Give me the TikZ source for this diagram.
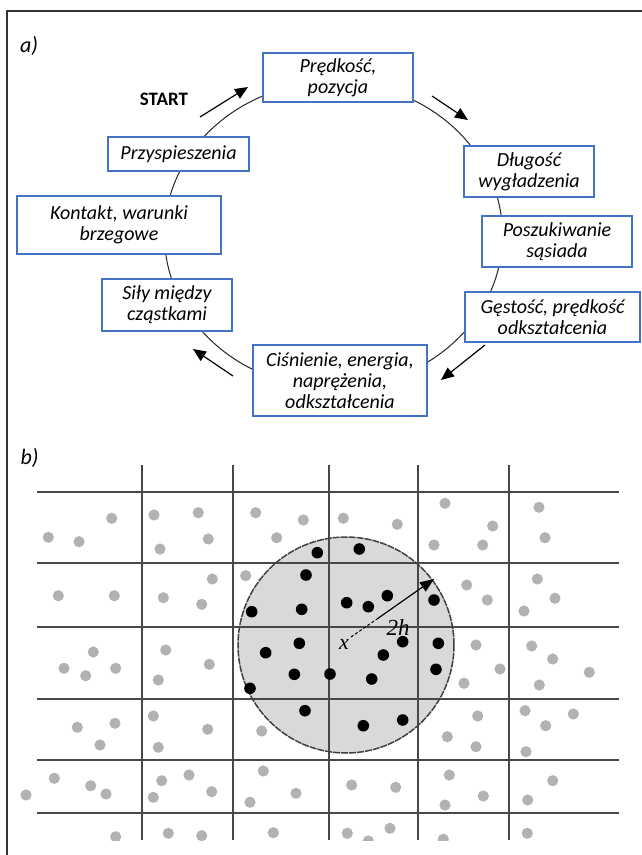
\documentclass[tikz,border=0pt]{standalone}
\usepackage{fontspec}
\setmainfont{Carlito}
\newfontfamily\serifit{Liberation Serif}
\usetikzlibrary{arrows.meta}
\definecolor{boxblue}{RGB}{68,114,196}
\definecolor{dotgray}{RGB}{178,178,178}
\definecolor{circfill}{RGB}{217,217,217}
\definecolor{gridcol}{RGB}{72,72,72}
\begin{document}
\begin{tikzpicture}[x=1pt,y=-1pt,
  stepbox/.style={draw=boxblue, line width=2.4pt, fill=white, inner sep=0pt, align=center,
    font=\fontsize{20}{21}\selectfont\itshape},
  cyc/.style={line width=1pt, black!85},
  arr/.style={line width=1.2pt, -{Triangle[length=13pt,width=11pt]}},
  gridline/.style={gridcol, line width=2pt},
  lbl/.style={inner sep=0pt, font=\fontsize{22}{22}\selectfont\itshape},
]
\useasboundingbox (0,0) rectangle (642,855);
% frame
\draw[black!80, line width=1.2pt] (642,11) -- (7,11) -- (7,855);
% ---------- part a ----------
\node[lbl] (la) at (29,46) {a)};
\draw[cyc] (333.5,235) ellipse [x radius=169pt, y radius=153pt];
\node[stepbox, minimum width=150pt, minimum height=49pt] (b1) at (338,77.5) {Prędkość,\\pozycja};
\node[stepbox, minimum width=130pt, minimum height=51pt] (b2) at (529,171.5) {Długość\\wygładzenia};
\node[stepbox, minimum width=150pt, minimum height=51pt] (b3) at (557,241.5) {Poszukiwanie\\sąsiada};
\node[stepbox, minimum width=175pt, minimum height=50pt] (b4) at (552.5,317) {Gęstość, prędkość\\odkształcenia};
\node[stepbox, minimum width=174pt, minimum height=71pt] (b5) at (340,380.5) {Ciśnienie, energia,\\naprężenia,\\odkształcenia};
\node[stepbox, minimum width=130pt, minimum height=52pt] (b6) at (167,305) {Siły między\\cząstkami};
\node[stepbox, minimum width=204pt, minimum height=58pt] (b7) at (119,225) {Kontakt, warunki\\brzegowe};
\node[stepbox, minimum width=141pt, minimum height=34pt] (b8) at (178.5,154) {Przyspieszenia};
\node[inner sep=0pt, font=\fontsize{19}{19}\selectfont\bfseries] (start) at (164,99) {START};
% arrows
\coordinate (a1s) at (200,117); \coordinate (a1e) at (248,87);
\coordinate (a2s) at (432,96);  \coordinate (a2e) at (468,120);
\coordinate (a3s) at (485,345); \coordinate (a3e) at (441,380);
\coordinate (a4s) at (233,376); \coordinate (a4e) at (193,349);
\draw[arr] (a1s) -- (a1e);
\draw[arr] (a2s) -- (a2e);
\draw[arr] (a3s) -- (a3e);
\draw[arr] (a4s) -- (a4e);
% ---------- part b ----------
\node[lbl] (lb) at (29.5,458) {b)};
\fill[circfill] (346,645) circle (108pt);
\foreach \yy in {492,563,627,699,760,813} \draw[gridline] (37,\yy) -- (619,\yy);
\foreach \xx in {142,233,329,418,509} \draw[gridline] (\xx,465) -- (\xx,840);
\draw[black!75, line width=1.5pt, dash pattern=on 7pt off 1pt] (346,645) circle (108pt);
\begin{scope}
\clip (0,460) rectangle (642,840);
\foreach \px/\py in {111.7/518.3,48.3/537.3,79/541.7,154/515,198.3/512.7,208.3/539,160/549,255.7/512.7,303.3/520,276.7/537.7,343.3/518.3,397.3/524.3,445/503.3,492.7/526,434/545,482.7/545,539/507.3,545/537.7,
58.3/595.7,114.3/595.7,212.3/579,163.3/597.7,201.7/604.3,245.7/575.7,466.7/585,487.3/600,537.3/579,555/598.3,524/611,
93.3/652,64/668.3,85.7/675.7,115.7/668.3,165.7/650,209.3/664.3,158.3/680,476/645,531.7/646,552.7/659,500/669,464/683.3,539.3/685,589.3/672.3,
153.3/716,115/723.3,77.3/727.3,100/745,207.7/729.3,158.3/747.3,261.7/731,477.7/716,525/710.7,545.7/725.7,573.3/714,447.3/736.7,476/746.7,526/751.7,
54.3/778.3,90.7/785.7,106/794,26/795,161.7/780.7,189/775,153.3/797.3,211.7/791.7,263.3/771,250/802.3,296/793.3,351.7/785,395.7/787.3,449.3/775,483.3/796,445/805,552.7/780.7,527.7/800,
115.7/836.7,168.3/833.3,201.7/835.7,273.3/832.7,347.3/833.3,390/828.3,368.3/841,443.3/839.3,527.3/833.3}
  \fill[dotgray] (\px,\py) circle (5.6pt);
\end{scope}
\foreach \px/\py in {317.3/552.7,359.3/549,306/575,301.7/609.3,346.7/602.7,368.3/606.7,387.3/595.7,434/600,251.7/611.7,299.3/643.3,265.7/652.7,402.7/641.7,383.3/655,438.3/643.3,294.3/674.3,330/674,371.7/679,436/669.3,250/688.3,305/710.7,363.3/725.7,402.7/720}
  \fill[black] (\px,\py) circle (5.8pt);
% radius
\node[inner sep=0pt, font=\fontsize{22}{22}\selectfont\serifit\itshape] (xl) at (344,644) {x};
\node[inner sep=0pt, font=\fontsize{23}{23}\selectfont\serifit\itshape] (hl) at (398,628) {2h};
\coordinate (rc) at (351,637);
\coordinate (rm) at (377,619);
\coordinate (rt) at (434,579);
\draw[black, line width=1pt, dash pattern=on 3pt off 2pt] (rc) -- (rm);
\draw[black, line width=1.2pt, -{Triangle[length=14pt,width=11pt]}] (rm) -- (rt);
\end{tikzpicture}
\end{document}
